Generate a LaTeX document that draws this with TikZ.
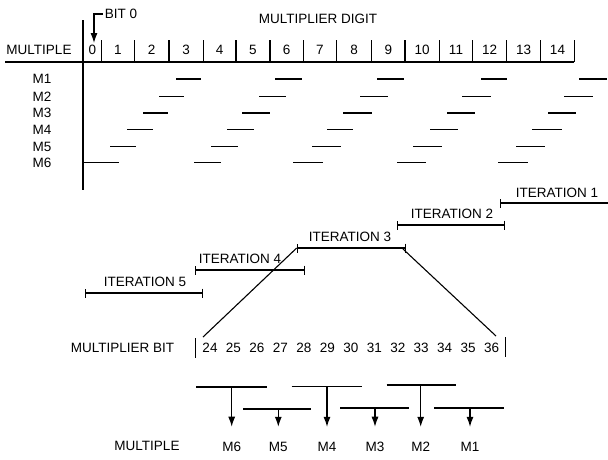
\documentclass[tikz,border=0pt]{standalone}
\usepackage{fontspec}
\setmainfont{Liberation Sans}
\usetikzlibrary{arrows.meta}
\begin{document}
\begin{tikzpicture}[x=1pt,y=-1pt,
  lbl/.style={font=\fontsize{13.5}{15}\selectfont, inner sep=0pt, anchor=center},
  ln/.style={line width=1.1pt},
  seg/.style={line width=1.7pt},
  itbar/.style={line width=1.6pt, {Bar[width=9pt,line width=1pt]}-{Bar[width=9pt,line width=1pt]}},
  itbarl/.style={line width=1.6pt, {Bar[width=9pt,line width=1pt]}-},
  arr/.style={line width=1.1pt, -{Latex[length=10pt,width=7pt]}}]
\useasboundingbox (0,0) rectangle (608,459);

% ---------- header ----------
\node[lbl] (mult) at (39,50) {MULTIPLE};
\node[lbl] (mdig) at (318,19) {MULTIPLIER DIGIT};
\node[lbl] (bit0) at (121,14) {BIT 0};
\draw[ln] (83,20) -- (83,190);
\draw[ln] (5,62) -- (574.3,62);
\foreach \sx in {101.7,134.3,169,203.3,236,270,303.3,336.7,371.7,405,439.3,472.7,506.7,540.7,574.3}
  \draw[ln] (\sx,40) -- (\sx,62);
\foreach \d/\cx in {0/92.4,1/118,2/151.7,3/186.2,4/219.7,5/253,6/286.7,7/320,8/354.2,9/388.4,10/422.2,11/456,12/489.7,13/523.7,14/557.5}
  \node[lbl] (d\d) at (\cx,50) {\d};
\coordinate (b0tip) at (94,43);
\draw[arr] ([xshift=-2pt]bit0.west) -| (b0tip);

% ---------- rows ----------
\foreach \r/\ry in {1/79,2/96.5,3/113,4/129.5,5/146.5,6/163}
  \node[lbl] (m\r) at (42,\ry) {M\r};
\foreach \a/\b in {176/201,275/302,377/404,481/507,579/607}
  \draw[seg] (\a,79) -- (\b,79);
\foreach \a/\b in {159/184,259/286,360/388,462/491,564/593}
  \draw[seg] (\a,96.5) -- (\b,96.5);
\foreach \a/\b in {143/168,242/270,343/372,447/475,548/576}
  \draw[seg] (\a,113) -- (\b,113);
\foreach \a/\b in {127/153,227/254,327/353,430/458,532/562}
  \draw[seg] (\a,129.5) -- (\b,129.5);
\foreach \a/\b in {110/136,211/238,312/341,413/442,516/545}
  \draw[seg] (\a,146.5) -- (\b,146.5);
\foreach \a/\b in {84/119,194/221,293/323,397/426,498/528}
  \draw[seg] (\a,162.5) -- (\b,162.5);

% ---------- iterations ----------
\coordinate (i5a) at (85,293);   \coordinate (i5b) at (202.7,293);
\coordinate (i4a) at (195,270);  \coordinate (i4b) at (305,270);
\coordinate (i3a) at (296.7,248);\coordinate (i3b) at (406,248);
\coordinate (i2a) at (396.7,225);\coordinate (i2b) at (505,225);
\coordinate (i1a) at (500,203);  \coordinate (i1b) at (608,203);
\draw[itbar] (i5a) -- (i5b);
\draw[itbar] (i4a) -- (i4b);
\draw[itbar] (i3a) -- (i3b);
\draw[itbar] (i2a) -- (i2b);
\draw[itbarl] (i1a) -- (i1b);
\node[lbl] (t5) at (145,282) {ITERATION 5};
\node[lbl] (t4) at (240,259) {ITERATION 4};
\node[lbl] (t3) at (350,237) {ITERATION 3};
\node[lbl] (t2) at (452,214) {ITERATION 2};
\node[lbl] (t1) at (557,193) {ITERATION 1};

% ---------- multiplier bits ----------
\node[lbl] (mbit) at (122.5,348) {MULTIPLIER BIT};
\coordinate (bl) at (195.7,338); \coordinate (blb) at (195.7,358);
\coordinate (br) at (505.7,337); \coordinate (brb) at (505.7,357);
\draw[ln] (bl) -- (blb);
\draw[ln] (br) -- (brb);
\foreach \i in {0,...,12}{
  \pgfmathtruncatemacro{\n}{24+\i}
  \node[lbl] (n\n) at ({210+23.47*\i},348) {\n};
}
\coordinate (dl) at (203,337);
\coordinate (dr) at (496,336);
\coordinate (i3r) at (403,249);
\draw[ln] (i3a) -- (dl);
\draw[ln] (i3r) -- (dr);

% ---------- bottom multiples ----------
\node[lbl] (bmult) at (147,446) {MULTIPLE};
\foreach \k/\y/\a/\b/\x/\lab in {A/387/196/266.7/231.7/M6, B/409/243/310.7/278.3/M5, C/386.5/291.7/361.7/327/M4, D/408/340/409/375/M3, E/385/386.7/455.7/420.7/M2, F/407.7/434/504.3/470/M1}{
  \draw[seg] (\a,\y) -- (\b,\y);
  \coordinate (p\k) at (\x,\y);
  \node[lbl] (l\k) at (\x,446.7) {\lab};
  \draw[arr, shorten >=15pt] (p\k) -- (l\k);
}
\end{tikzpicture}
\end{document}
